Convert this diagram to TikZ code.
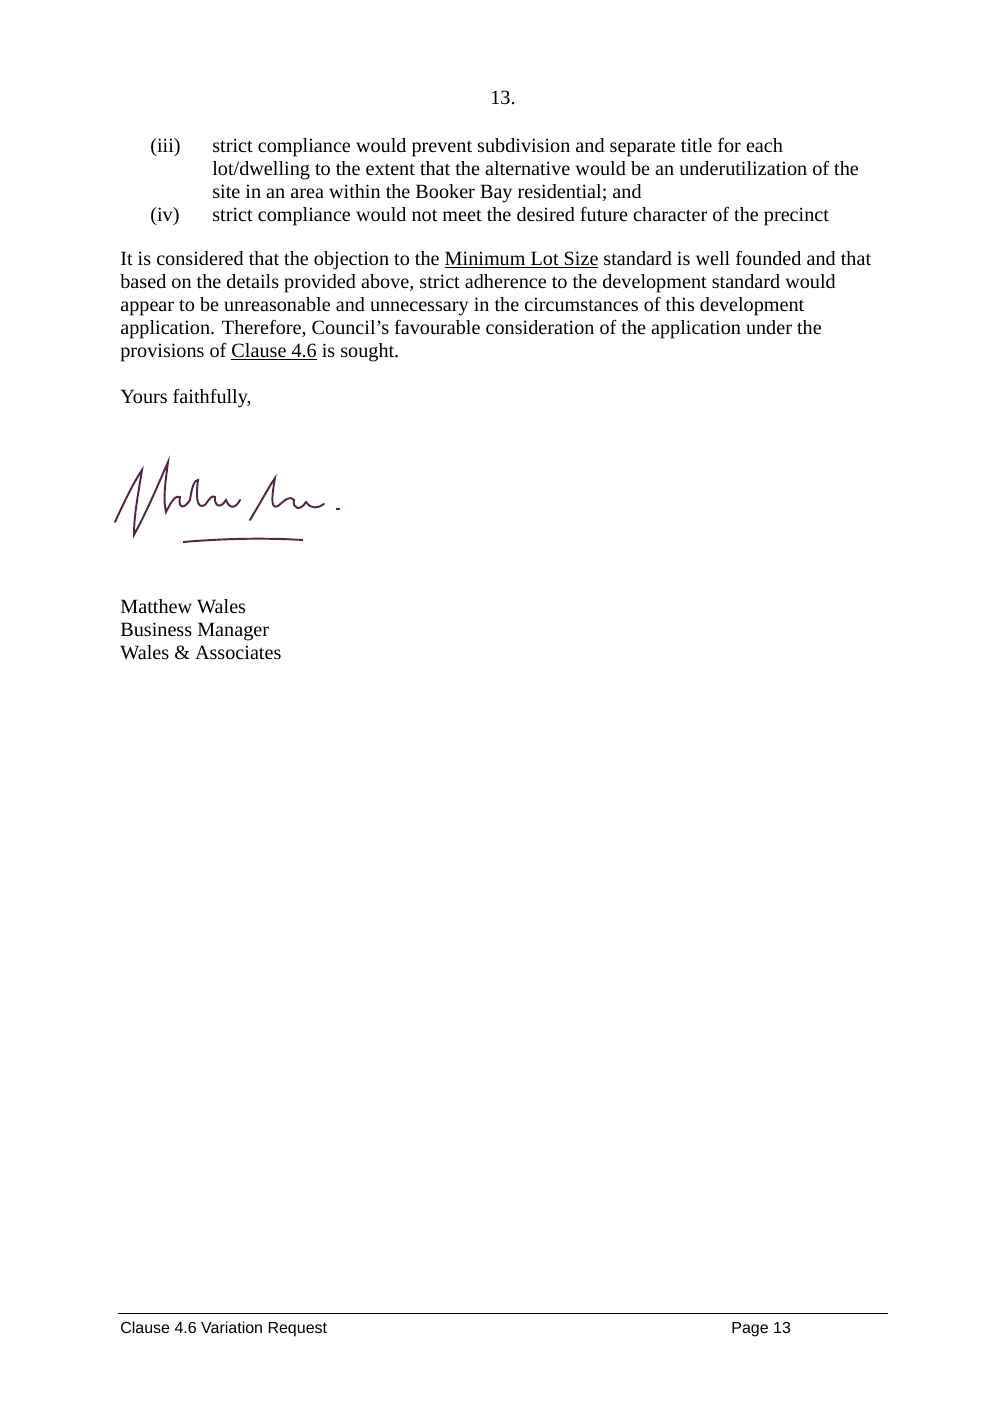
\documentclass[tikz,border=0pt]{standalone}
\usepackage{fontspec}
\setmainfont{Liberation Serif}
\newfontfamily\footfont{Liberation Sans}
\usetikzlibrary{positioning}
\definecolor{sigink}{RGB}{80,40,70}
\begin{document}
\begin{tikzpicture}[x=0.02cm, y=-0.02cm,
    line/.style={anchor=base west, inner sep=0pt, font=\fontsize{11.5}{13}\selectfont},
    foot/.style={anchor=base west, inner sep=0pt, font=\footfont\fontsize{9.1}{10}\selectfont}
]
    \useasboundingbox (0,0) rectangle (1004,1420);
    % Page number
    \node[line, anchor=base] (pnum) at (503,104) {13.};

    % List items
    \node[line] (n3) at (150,152) {(iii)};
    \node[line] (l1) at (212,152) {strict compliance would prevent subdivision and separate title for each};
    \node[line] (l2) at (212,175) {lot/dwelling to the extent that the alternative would be an underutilization of the};
    \node[line] (l3) at (212,198) {site in an area within the Booker Bay residential; and};
    \node[line] (n4) at (150,221) {(iv)};
    \node[line] (l4) at (212,221) {strict compliance would not meet the desired future character of the precinct};

    % Paragraph
    \node[line] (p1) at (120,265) {It is considered that the objection to the \underline{Minimum Lot Size} standard is well founded and that};
    \node[line] (p2) at (120,288) {based on the details provided above, strict adherence to the development standard would};
    \node[line] (p3) at (120,311) {appear to be unreasonable and unnecessary in the circumstances of this development};
    \node[line] (p4) at (120,334) {application. Therefore, Council's favourable consideration of the application under the};
    \node[line] (p5) at (120,357) {provisions of \underline{Clause 4.6} is sought.};
    \node[line] (yours) at (120,403) {Yours faithfully,};

    % Signature
    \draw[sigink, line width=1.1pt, line cap=round]
        (115,522) .. controls (125,500) and (135,480) .. (142,470)
        .. controls (138,495) and (134,515) .. (134,535)
        .. controls (150,505) and (160,480) .. (168,462)
        .. controls (165,485) and (163,500) .. (166,512)
        .. controls (172,500) and (176,495) .. (180,497)
        .. controls (178,505) and (182,512) .. (190,500)
        .. controls (192,485) and (195,480) .. (198,480)
        .. controls (196,495) and (196,510) .. (205,505)
        .. controls (210,498) and (212,495) .. (215,497)
        .. controls (214,505) and (220,510) .. (226,500)
        .. controls (230,510) and (236,508) .. (240,500);
    \draw[sigink, line width=1.1pt, line cap=round]
        (250,520) .. controls (262,500) and (270,485) .. (275,478)
        .. controls (272,495) and (270,510) .. (278,506)
        .. controls (285,500) and (290,495) .. (294,500)
        .. controls (292,508) and (300,512) .. (306,502)
        .. controls (312,510) and (318,508) .. (324,504);
    \draw[sigink, line width=1.1pt] (183,542) .. controls (230,538) and (270,538) .. (303,540);
    \draw[sigink, line width=0.6pt] (336,509) -- (340,509);

    % Sign-off
    \node[line] (name) at (120,613) {Matthew Wales};
    \node[line] (role) at (120,636) {Business Manager};
    \node[line] (firm) at (120,659) {Wales \& Associates};

    % Footer
    \coordinate (rl) at (118,1313);
    \coordinate (rr) at (888,1313);
    \draw[line width=0.5pt] (rl) -- (rr);
    \node[foot] (ftitle) at (120,1333) {Clause 4.6 Variation Request};
    \node[foot] (fpage) at (731,1333) {Page 13};
\end{tikzpicture}
\end{document}
